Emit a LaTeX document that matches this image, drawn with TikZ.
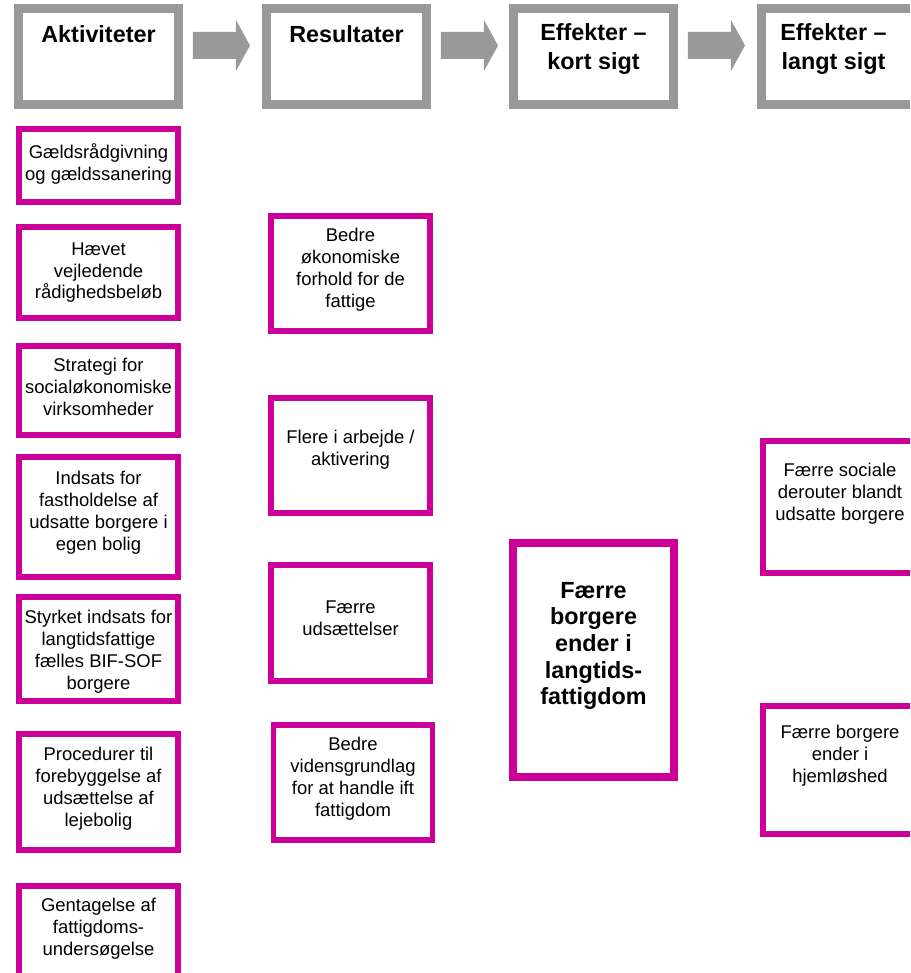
\documentclass[tikz,border=0pt]{standalone}
\usepackage{fontspec}
\setmainfont{Liberation Sans}
\usepackage{tikz}
\usetikzlibrary{positioning}

\definecolor{rammegraa}{HTML}{999999}
\definecolor{rammelilla}{HTML}{CC0099}

\tikzset{
  overskrift/.style={draw=rammegraa, line width=0.18cm, minimum width=3.2cm, minimum height=1.92cm, inner sep=0pt, outer sep=0pt},
  boks/.style={draw=rammelilla, line width=0.11cm, minimum width=3.19cm, inner sep=0pt, outer sep=0pt},
  tekst/.style={anchor=north, inner sep=0pt, align=center, font=\fontsize{10.5}{12.5}\selectfont},
  fedtekst/.style={anchor=north, inner sep=0pt, align=center, font=\bfseries\fontsize{13.3}{16.3}\selectfont},
  blokpil/.style={fill=rammegraa}
}

\begin{document}
\begin{tikzpicture}[x=0.02cm, y=-0.02cm]
        \clip (0,0) rectangle (910,973);
        \node[overskrift] (akt) at (98.5,56.5) {};
        \node[overskrift] (res) at (346.5,56.5) {};
        \node[overskrift] (kort) at (593.5,56.5) {};
        \node[overskrift] (lang) at (841.5,56.5) {};
        \node[fedtekst, below=0.34cm of akt.north] (aktt) {Aktiviteter};
        \node[fedtekst, below=0.34cm of res.north] (rest) {Resultater};
        \node[fedtekst, below=0.3cm of kort.north] (kortt) {Effekter --\\kort sigt};
        \node[fedtekst, below=0.3cm of lang.north, xshift=-0.16cm] (langt) {Effekter --\\langt sigt};
        \foreach \a in {akt,res,kort}
          \fill[blokpil] (\a.east) ++(14.5,-24.5) -- ++(43,0) -- ++(0,-12) -- ++(14,25.5) -- ++(-14,25.5) -- ++(0,-12) -- ++(-43,0) -- cycle;

        \node[boks, minimum height=1.47cm] (akt1) at (98.5,165.5) {};
        \node[boks, minimum height=1.83cm] (akt2) at (98.5,272.5) {};
        \node[boks, minimum height=1.79cm] (akt3) at (98.5,390.5) {};
        \node[boks, minimum height=2.41cm] (akt4) at (98.5,517) {};
        \node[boks, minimum height=2.09cm] (akt5) at (98.5,649) {};
        \node[boks, minimum height=2.33cm] (akt6) at (98.5,792) {};
        \node[boks, minimum height=2.23cm] (akt7) at (98.5,941.5) {};
        \node[tekst, below=0.285cm of akt1.north] (akt1t) {Gældsrådgivning\\og gældssanering};
        \node[tekst, below=0.305cm of akt2.north] (akt2t) {Hævet\\vejledende\\rådighedsbeløb};
        \node[tekst, below=0.245cm of akt3.north] (akt3t) {Strategi for\\socialøkonomiske\\virksomheder};
        \node[tekst, below=0.285cm of akt4.north] (akt4t) {Indsats for\\fastholdelse af\\udsatte borgere i\\egen bolig};
        \node[tekst, below=0.265cm of akt5.north] (akt5t) {Styrket indsats for\\langtidsfattige\\fælles BIF-SOF\\borgere};
        \node[tekst, below=0.265cm of akt6.north] (akt6t) {Procedurer til\\forebyggelse af\\udsættelse af\\lejebolig};
        \node[tekst, below=0.245cm of akt7.north] (akt7t) {Gentagelse af\\fattigdoms-\\undersøgelse};

        \node[boks, minimum height=2.31cm] (res1) at (350.5,273.5) {};
        \node[boks, minimum height=2.31cm] (res2) at (350.5,455.5) {};
        \node[boks, minimum height=2.33cm] (res3) at (350.5,623) {};
        \node[boks, minimum height=2.31cm] (res4) at (353,782.5) {};
        \node[tekst, below=0.245cm of res1.north] (res1t) {Bedre\\økonomiske\\forhold for de\\fattige};
        \node[tekst, below=0.645cm of res2.north] (res2t) {Flere i arbejde /\\aktivering};
        \node[tekst, below=0.705cm of res3.north] (res3t) {Færre\\udsættelser};
        \node[tekst, below=0.245cm of res4.north] (res4t) {Bedre\\vidensgrundlag\\for at handle ift\\fattigdom};

        \node[boks, line width=0.16cm, minimum width=3.22cm, minimum height=4.68cm] (kort1) at (593.5,660) {};
        \node[fedtekst, font=\bfseries\fontsize{13.3}{15.1}\selectfont, below=0.78cm of kort1.north] (kort1t) {Færre\\borgere\\ender i\\langtids-\\fattigdom};

        \node[boks, line width=0.12cm, minimum width=3.2cm, minimum height=2.64cm] (lang1) at (843,507) {};
        \node[boks, line width=0.12cm, minimum width=3.2cm, minimum height=2.56cm] (lang2) at (843,770) {};
        \node[tekst, below=0.44cm of lang1.north, xshift=-0.06cm] (lang1t) {Færre sociale\\derouter blandt\\udsatte borgere};
        \node[tekst, below=0.38cm of lang2.north, xshift=-0.06cm] (lang2t) {Færre borgere\\ender i\\hjemløshed};
      \end{tikzpicture}
\end{document}
